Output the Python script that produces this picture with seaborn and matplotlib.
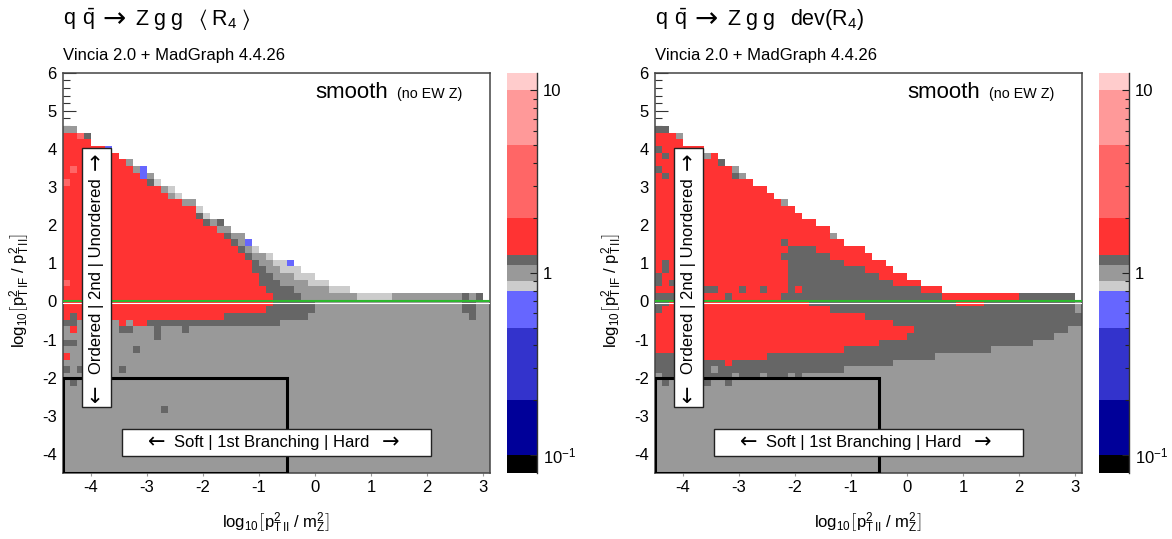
import re
import numpy as np
import matplotlib
matplotlib.use("Agg")
import matplotlib.pyplot as plt
import seaborn as sns
from matplotlib.colors import ListedColormap, LogNorm
from matplotlib.patches import Rectangle
from matplotlib.ticker import FixedLocator, FixedFormatter, NullFormatter
from matplotlib.lines import Line2D

# ---------------------------------------------------------------- data
# histogram binning (x: log10(pT_II^2/mZ^2), y: log10(pT_IF^2/pT_II^2))
x_lo, x_bin, n_cols = -4.5, 0.125, 61
y_hi, y_bin, n_rows = 6.0, 0.175, 60

# z-axis colour levels and colours
z_levels = [0.08, 0.1, 0.2, 0.5, 0.8, 0.9, 1.1, 1.25, 2.0, 5.0, 10.0, 12.5]
z_colors = ["#000000", "#000099", "#3333cc", "#6666ff", "#cccccc", "#999999",
            "#666666", "#ff3333", "#ff6666", "#ff9999", "#ffcccc"]
# value read for each cell class (one per colour band)
cell_value = {"k": 0.09, "B": 0.15, "m": 0.3, "b": 0.65, "l": 0.85, "g": 1.0,
              "d": 1.18, "r": 1.6, "p": 3.0, "q": 7.0, "w": 11.0}

# rows from top (y=6) to bottom (y=-4.5), run-length coded: class + count
rows_mean = [".61"] * 8 + [
    "g2.59", "r2p1d1.57", "r4.57", "r6b1.54", "r8.53", "r9g1.51",
    "r1p1r8g1b1.49", "r11b1g1.48", "p1r11d1l1.47", "r14g1l1.45",
    "r15g1l1.44", "r17g2.42", "r19l1.41", "r19d1l1.40", "r20d1g1d1.38",
    "r22g2.37", "r23d1g2.35", "r24d1g1b1.34", "r25d1g1l1.33",
    "r26d1g2l1.31", "r27d1g2l2b1.28", "r27d2g2l3.27", "r28d2g3l3.25",
    "p1r27d3g4l3.23", "r29d4g5l3.20", "r30d4g8l5g10d1g1d1.1",
    "r30d6g21d2g2", "r29d7g21d2g2", "r1d1r21d12g23d1g2",
    "d2g1r4g1r1g1r2d19g30", "g1r1g6d2g3d1g3d1g43", "g6b1g6d1g47",
    "d2g59", "g10d1g50", "r1g60", "g61", "d1g1d1g5d1g52", "g61",
    "g1d1g59", "g61", "g61", "g61", "g14d1g46"] + ["g61"] * 9

rows_dev = [".61"] * 8 + [
    "d2.59", "r3g1.57", "r4.57", "d1r6.54", "r1d1r5g1r1.52", "r9d1.51",
    "d1r10g1.49", "r1d1r9d1g1.48", "r14.47", "r16.45", "r17.44",
    "r18g1.42", "r20.41", "r21.40", "r23.38", "r25.36", "r25g1.35",
    "r18d1r8.34", "r19d4r7.31", "r18d7r6.30", "r1d1r17d8r6.28",
    "r1d1r17d11r4.27", "d1r18d13r4.25", "d1r1d1r16d15r4.23",
    "r7d2r3d1r2d1r3d1r1d17r3.20", "d3r7d1r7d23r11d8.1",
    "d2r20d21r4d13g1", "d1r24d35g1", "r30d31", "r34d27", "r37d22g2",
    "r36d21g4", "r32d22g7", "r27d21g13", "d3r13d24g21",
    "d3r4d3r1d23g27", "d8g1d18g34", "g1d10g1d3g1d3g1d1g40",
    "g1d1g5d1g2d1g50"] + ["g61"] * 13

x_ticks = [-4, -3, -2, -1, 0, 1, 2, 3]
y_ticks = [-4, -3, -2, -1, 0, 1, 2, 3, 4, 5, 6]
cb_ticks = [0.1, 1, 10]
cb_tick_labels = [r"$10^{-1}$", "1", "10"]
cb_minor = [0.2, 0.3, 0.4, 0.5, 0.6, 0.7, 0.8, 0.9, 2, 3, 4, 5, 6, 7, 8, 9]

title_tail = [r"$\langle\;\mathrm{R}_{4}\;\rangle$", r"$\mathrm{dev(R}_{4}\mathrm{)}$"]
subtitle = "Vincia 2.0 + MadGraph 4.4.26"
label_order = "Ordered | 2nd | Unordered"
label_branch = "Soft | 1st Branching | Hard"
arrow_l, arrow_r = "\u2190", "\u2192"

# ---------------------------------------------------------------- style
plt.rcParams["font.family"] = ["Liberation Sans", "DejaVu Sans"]
plt.rcParams["mathtext.fontset"] = "custom"
plt.rcParams["mathtext.rm"] = "Liberation Sans"
plt.rcParams["mathtext.it"] = "Liberation Sans:italic"
plt.rcParams["mathtext.bf"] = "Liberation Sans:bold"
plt.rcParams["mathtext.default"] = "regular"
plt.rcParams["axes.unicode_minus"] = False


def parse_rows(rows):
    grid = np.full((len(rows), n_cols), np.nan)
    for t, s in enumerate(rows):
        c = 0
        for code, n in re.findall(r"([A-Za-z.])(\d+)", s):
            n = int(n)
            if code != ".":
                grid[t, c:c + n] = cell_value[code]
            c += n
        if c != n_cols:
            raise ValueError(f"row {t} has {c} cells")
    return grid


# fine colormap reproducing the stepped colour levels on a log axis
lz = np.log10(z_levels)
n_fine = 2400
centers = lz[0] + (np.arange(n_fine) + 0.5) * (lz[-1] - lz[0]) / n_fine
band = np.clip(np.searchsorted(lz, centers, side="right") - 1, 0, len(z_colors) - 1)
cmap = ListedColormap([z_colors[i] for i in band])
norm = LogNorm(vmin=z_levels[0], vmax=z_levels[-1])

W, H = 1172, 539
fig = plt.figure(figsize=(W / 100, H / 100), dpi=100)


def box(l, t, w, h):
    return [l / W, 1 - (t + h) / H, w / W, h / H]


def xp(v):
    return (v - x_lo) / x_bin


def yp(v):
    return (y_hi - v) / y_bin


def ftext(px, py, s, **kw):
    return fig.text(px / W, 1 - py / H, s, **kw)


xlabel = r"$\log_{10}\!\left[\mathrm{p}^{2}_{\mathrm{T\,II}}\ /\ \mathrm{m}^{2}_{\mathrm{Z}}\right]$"
ylabel = r"$\log_{10}\!\left[\mathrm{p}^{2}_{\mathrm{T\,IF}}\ /\ \mathrm{p}^{2}_{\mathrm{T\,II}}\right]$"
ARW = dict(family="DejaVu Sans", fontsize=15, ha="center", va="center", zorder=6)

for k, rows in enumerate([rows_mean, rows_dev]):
    off = 592 * k
    ax = fig.add_axes(box(63 + off, 72.7, 427, 400.3))
    cax = fig.add_axes(box(507 + off, 72.7, 30, 400.3))
    grid = parse_rows(rows)
    sns.heatmap(grid, ax=ax, cbar_ax=cax, cmap=cmap, norm=norm,
                xticklabels=False, yticklabels=False)
    ax.set_facecolor("white")
    ax.set_xlim(0, n_cols)
    ax.set_ylim(n_rows, 0)
    for s in ax.spines.values():
        s.set_visible(True)
        s.set_color("#444444")
        s.set_linewidth(1.1)
    ax.set_axisbelow(True)

    ax.set_xticks([xp(v) for v in x_ticks])
    ax.set_xticklabels([str(v) for v in x_ticks])
    ax.set_yticks([yp(v) for v in y_ticks])
    ax.set_yticklabels([str(v) for v in y_ticks])
    ax.set_yticks([yp(v) for v in np.arange(-4.4, 6.0, 0.2)], minor=True)
    ax.tick_params(axis="y", which="major", direction="in", length=9.5,
                   width=0.8, color="#333333", labelsize=12, pad=4.5)
    ax.tick_params(axis="y", which="minor", direction="in", length=5,
                   width=0.8, color="#333333")
    ax.tick_params(axis="x", which="major", direction="out", length=2.5,
                   width=0.8, color="#999999", labelsize=12, pad=2.5)
    ax.set_xlabel("")
    ax.set_ylabel("")

    # y = 0 reference line
    ax.axhline(yp(0.015), color="#2db82d", lw=1.5, zorder=3)
    ax.axhline(yp(-0.03), color="white", lw=0.8, zorder=3)

    # soft / 1st-branching region
    ax.add_patch(Rectangle((xp(-4.5), yp(-2.0)), xp(-0.5) - xp(-4.5),
                           yp(-4.5) - yp(-2.0), fill=False, ec="black",
                           lw=2.2, zorder=4))

    # label boxes
    ax.add_patch(Rectangle((xp(-4.16), yp(4.02)), xp(-3.64) - xp(-4.16),
                           yp(-2.77) - yp(4.02), fc="white", ec="#222222",
                           lw=1.0, zorder=5))
    ax.text(xp(-3.90), yp(0.667), label_order, rotation=90,
            ha="center", va="center", fontsize=12, zorder=6)
    ax.text(xp(-3.90), yp(-2.40), arrow_l, rotation=90, **ARW)
    ax.text(xp(-3.90), yp(3.684), arrow_r, rotation=90, **ARW)

    ax.add_patch(Rectangle((xp(-3.45), yp(-3.35)), xp(2.07) - xp(-3.45),
                           yp(-4.06) - yp(-3.35), fc="white", ec="#222222",
                           lw=1.0, zorder=5))
    ax.text(xp(-0.777), yp(-3.70), label_branch,
            ha="center", va="center", fontsize=12, zorder=6)
    ax.text(xp(-2.82), yp(-3.70), arrow_l, **ARW)
    ax.text(xp(1.34), yp(-3.70), arrow_r, **ARW)

    # colour bar
    cax.set_yscale("log")
    cax.set_ylim(z_levels[0], z_levels[-1])
    cax.yaxis.set_ticks_position("right")
    cax.yaxis.set_major_locator(FixedLocator(cb_ticks))
    cax.yaxis.set_major_formatter(FixedFormatter(cb_tick_labels))
    cax.yaxis.set_minor_locator(FixedLocator(cb_minor))
    cax.yaxis.set_minor_formatter(NullFormatter())
    cax.tick_params(axis="y", which="major", direction="in", length=5,
                    width=0.8, color="#222222", labelsize=12, pad=4)
    cax.tick_params(axis="y", which="minor", direction="in", length=2.8,
                    width=0.8, color="#222222")
    cax.add_line(Line2D([1, 1], [0, 1], transform=cax.transAxes,
                        color="#333333", lw=1.0, clip_on=False))

    # titles and texts
    ftext(63 + off, 25, r"$\mathrm{q\;\,\bar{q}}$", fontsize=15.5, va="baseline")
    ftext(102 + off, 19, arrow_r, family="DejaVu Sans", fontsize=20,
          ha="left", va="center")
    ftext(135 + off, 25, r"$\mathrm{Z\;g\;g}$", fontsize=15.5, va="baseline")
    ftext(198 + off, 25, title_tail[k], fontsize=15.5, va="baseline")
    ftext(63 + off, 60, subtitle, fontsize=12, va="baseline")
    ftext(315 + off, 98, "smooth", fontsize=16, va="baseline")
    ftext(397 + off, 98, "(no EW Z)", fontsize=10.3, va="baseline")
    ftext(276 + off, 523, xlabel, fontsize=12, ha="center", va="center")
    ftext(20 + off, 291, ylabel, fontsize=12, rotation=90,
          ha="center", va="center")

fig.savefig("out.png", dpi=100)
